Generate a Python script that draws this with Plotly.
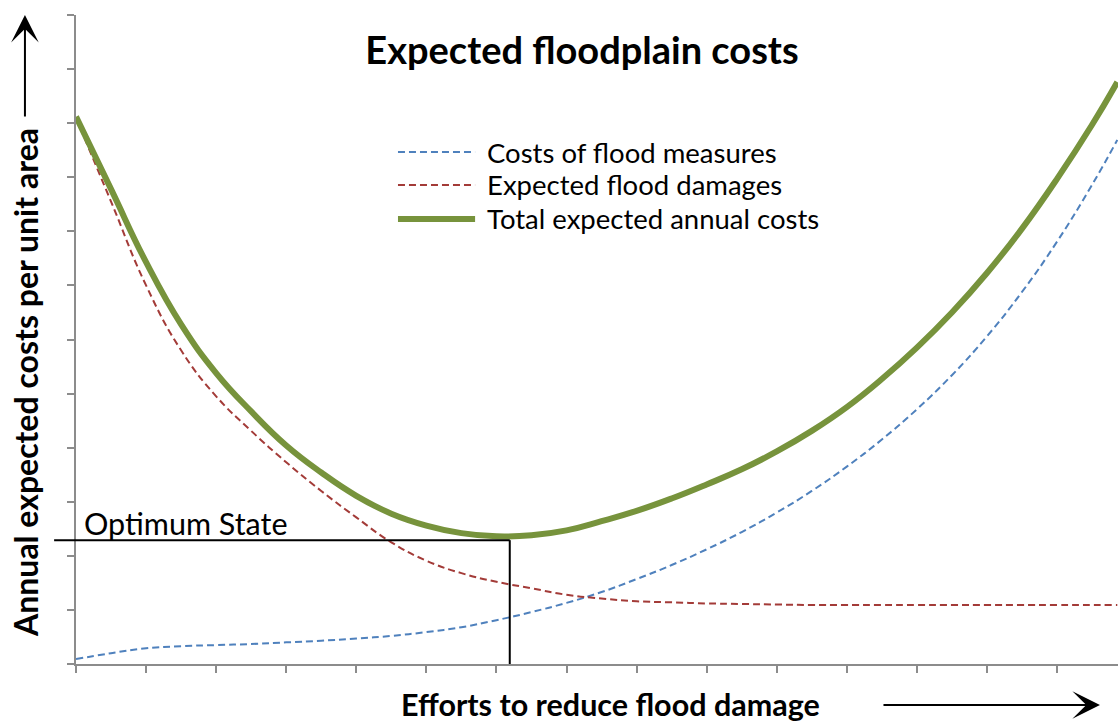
import plotly.graph_objects as go

# ---- data ----
effort = [0, 0.5, 1, 1.5, 2, 2.5, 3, 3.5, 4, 4.5, 5, 5.5, 6, 6.5, 7, 7.5, 8, 8.5,
          9, 9.5, 10, 10.5, 11, 11.5, 12, 12.5, 13, 13.5, 14, 14.5, 14.86]
measure_costs = [0.09, 0.20, 0.29, 0.33, 0.35, 0.37, 0.40, 0.43, 0.47, 0.52, 0.59,
                 0.68, 0.81, 0.96, 1.13, 1.33, 1.57, 1.83, 2.12, 2.44, 2.80, 3.20,
                 3.65, 4.15, 4.71, 5.34, 6.06, 6.88, 7.81, 8.86, 9.69]
flood_damages = [10.10, 8.55, 7.00, 5.80, 4.95, 4.31, 3.73, 3.20, 2.71, 2.25, 1.91,
                 1.68, 1.52, 1.40, 1.28, 1.21, 1.16, 1.14, 1.12, 1.11, 1.10, 1.09,
                 1.09, 1.09, 1.09, 1.09, 1.09, 1.09, 1.09, 1.09, 1.09]
total_costs = [10.12, 8.78, 7.43, 6.28, 5.38, 4.67, 4.04, 3.54, 3.11, 2.78, 2.56,
               2.42, 2.36, 2.38, 2.47, 2.64, 2.83, 3.06, 3.32, 3.60, 3.93, 4.31,
               4.75, 5.27, 5.85, 6.50, 7.23, 8.05, 8.97, 9.97, 10.76]
series_names = ["Costs of flood measures", "Expected flood damages",
                "Total expected annual costs"]
optimum_x = 6.19
optimum_y = 2.29
optimum_label = "Optimum State"
x_range = [0, 14.87]
y_range = [0, 12]

# ---- styles ----
BLUE = "#4F81BD"
RED = "#A33B38"
GREEN = "#77933C"
AXIS = "#8C8C8C"
FONT = "Lato"

fig = go.Figure()
series = [
    (measure_costs, BLUE, 2, "7px,4px"),
    (flood_damages, RED, 2, "7px,4px"),
    (total_costs, GREEN, 6, "solid"),
]
for (vals, col, w, dash), name in zip(series, series_names):
    fig.add_trace(go.Scatter(x=effort, y=vals, mode="lines", name=name,
                             line=dict(color=col, width=w, dash=dash,
                                       shape="spline", smoothing=1.3),
                             showlegend=False, hoverinfo="skip"))

# optimum marker lines
xspan = x_range[1] - x_range[0]
fig.add_shape(type="line", xref="paper", yref="y",
              x0=-0.021, x1=(optimum_x - x_range[0]) / xspan,
              y0=optimum_y, y1=optimum_y, line=dict(color="black", width=2))
fig.add_shape(type="line", xref="x", yref="y",
              x0=optimum_x, x1=optimum_x, y0=y_range[0], y1=optimum_y,
              line=dict(color="black", width=2))
fig.add_annotation(text=optimum_label, xref="paper", yref="y",
                   x=0.006, y=optimum_y, xanchor="left", yanchor="bottom",
                   yshift=-3, showarrow=False,
                   font=dict(family=FONT, size=30.5, color="black"))

# manual legend
leg_rows = [0.7889, 0.7381, 0.6857]
for (vals, col, w, dash), name, ly in zip(series, series_names, leg_rows):
    fig.add_shape(type="line", xref="paper", yref="paper",
                  x0=0.309, x1=0.383, y0=ly, y1=ly,
                  line=dict(color=col, width=w, dash=dash))
    fig.add_annotation(text=name, xref="paper", yref="paper", x=0.3925, y=ly,
                       xanchor="left", yanchor="middle", showarrow=False,
                       font=dict(family=FONT, size=27.5, color="black"))

# axis titles with arrows
fig.add_annotation(text="<b>Annual expected costs per unit area</b>",
                   xref="paper", yref="paper", x=-0.049, y=0.4345, textangle=-90,
                   showarrow=False, xanchor="center", yanchor="middle",
                   font=dict(family=FONT, size=32, color="black"))
fig.add_annotation(text="", xref="paper", yref="paper", x=-0.049, y=1.0,
                   ax=0, ay=103, showarrow=True, arrowhead=3, arrowsize=2.3,
                   arrowwidth=2, arrowcolor="black", standoff=0)
fig.add_annotation(text="<b>Efforts to reduce flood damage</b>",
                   xref="paper", yref="paper", x=0.5134, y=-0.0616,
                   showarrow=False, xanchor="center", yanchor="middle",
                   font=dict(family=FONT, size=30.5, color="black"))
fig.add_annotation(text="", xref="paper", yref="paper", x=0.9827, y=-0.0632,
                   ax=-218, ay=0, showarrow=True, arrowhead=3, arrowsize=2.3,
                   arrowwidth=2, arrowcolor="black", standoff=0)

fig.update_layout(
    width=1118, height=724,
    margin=dict(l=76, r=0, t=15, b=60),
    paper_bgcolor="white", plot_bgcolor="white",
    title=dict(text="<b>Expected floodplain costs</b>", x=0.4856, xref="paper",
               y=0.9295, yref="container", xanchor="center", yanchor="middle",
               font=dict(family=FONT, size=38, color="black")),
    xaxis=dict(range=x_range, dtick=1, tick0=0, ticks="outside", ticklen=7,
               tickwidth=2, tickcolor=AXIS, showline=True, linecolor=AXIS,
               linewidth=2, showgrid=False, zeroline=False, showticklabels=False),
    yaxis=dict(range=y_range, dtick=1, tick0=0, ticks="outside", ticklen=7,
               tickwidth=2, tickcolor=AXIS, showline=True, linecolor=AXIS,
               linewidth=2, showgrid=False, zeroline=False, showticklabels=False),
)
fig.write_html("out.html", config={"displayModeBar": False},
               post_script="document.body.style.margin='0px';"
                           "document.body.style.overflow='hidden';")
